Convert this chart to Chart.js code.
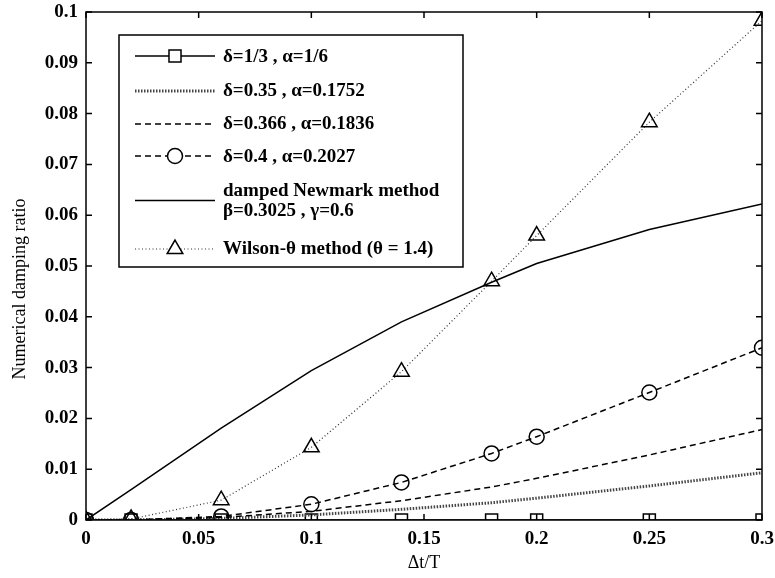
<!DOCTYPE html>
<html>
<head>
<meta charset="utf-8">
<script src="https://cdn.jsdelivr.net/npm/chart.js"></script>
<style>
  html, body { margin: 0; padding: 0; background: #fff; }
  #wrap { width: 775px; height: 578px; }
</style>
</head>
<body>
<div id="wrap"><canvas id="dampChart" width="775" height="578"></canvas></div>
<script>
// step ratio dt/T
const dtRatio = [0, 0.02, 0.06, 0.1, 0.14, 0.18, 0.2, 0.25, 0.3];

// numerical damping ratio
const delta333 = [0, 0, 0, 0, 0, 0, 0, 0, 0];
const delta350 = [0, 0, 0.0003, 0.0010, 0.0021, 0.0034, 0.0043, 0.0067, 0.0093];
const delta366 = [0, 0, 0.0005, 0.0017, 0.0038, 0.0065, 0.0082, 0.0128, 0.0178];
const delta400 = [0, 0, 0.0007, 0.0031, 0.0074, 0.0131, 0.0164, 0.0251, 0.0339];
const newmark = [0, 0.0060, 0.0181, 0.0294, 0.0390, 0.0468, 0.0505, 0.0572, 0.0622];
const wilson = [0, 0.0002, 0.0039, 0.0143, 0.0292, 0.0470, 0.0560, 0.0783, 0.0983];

const legendLabels = [
  ['δ=1/3 , α=1/6'],
  ['δ=0.35 , α=0.1752'],
  ['δ=0.366 , α=0.1836'],
  ['δ=0.4 , α=0.2027'],
  ['damped Newmark method', 'β=0.3025 , γ=0.6'],
  ['Wilson-θ method (θ = 1.4)']
];

const xTickLabels = ['0', '0.05', '0.1', '0.15', '0.2', '0.25', '0.3'];
const yTickLabels = ['0', '0.01', '0.02', '0.03', '0.04', '0.05', '0.06', '0.07', '0.08', '0.09', '0.1'];

const SERIF = '"Liberation Serif", "Times New Roman", serif';

function pts(ys) {
  return dtRatio.map((x, i) => ({ x: x, y: ys[i] }));
}

function series(label, ys, style) {
  return Object.assign({
    label: label,
    data: pts(ys),
    borderColor: '#000',
    borderWidth: 1.5,
    backgroundColor: 'rgba(0,0,0,0)',
    pointBorderColor: '#000',
    pointBackgroundColor: 'rgba(0,0,0,0)',
    pointBorderWidth: 1.5,
    pointRadius: 0,
    pointHoverRadius: 0,
    tension: 0,
    fill: false
  }, style);
}

const datasets = [
  series(legendLabels[0], delta333, { pointStyle: 'rect', pointRadius: 8.5, order: 6 }),
  series(legendLabels[1], delta350, { borderDash: [1.5, 1.5], borderWidth: 3, borderColor: '#444', order: 5 }),
  series(legendLabels[2], delta366, { borderDash: [6, 4], order: 4 }),
  series(legendLabels[3], delta400, { borderDash: [6, 4], pointStyle: 'circle', pointRadius: 7.5, order: 3 }),
  series(legendLabels[4], newmark, { order: 2 }),
  series(legendLabels[5], wilson, { borderDash: [1, 2.5], borderWidth: 1.2, borderColor: '#333', pointStyle: 'triangle', pointRadius: 9, order: 1 })
];

// box, inward ticks, y title and legend (MATLAB look)
const frame = {
  id: 'frame',
  afterDraw(chart) {
    const ctx = chart.ctx;
    const a = chart.chartArea;
    const xs = chart.scales.x;
    const ys = chart.scales.y;
    const tl = 6;
    ctx.save();
    ctx.strokeStyle = '#000';
    ctx.lineWidth = 1.5;
    ctx.strokeRect(a.left, a.top, a.right - a.left, a.bottom - a.top);
    ctx.beginPath();
    xs.ticks.forEach(t => {
      const px = xs.getPixelForValue(t.value);
      ctx.moveTo(px, a.bottom); ctx.lineTo(px, a.bottom - tl);
      ctx.moveTo(px, a.top); ctx.lineTo(px, a.top + tl);
    });
    ys.ticks.forEach(t => {
      const py = ys.getPixelForValue(t.value);
      ctx.moveTo(a.left, py); ctx.lineTo(a.left + tl, py);
      ctx.moveTo(a.right, py); ctx.lineTo(a.right - tl, py);
    });
    ctx.stroke();

    // y axis title
    ctx.save();
    ctx.translate(20, 289);
    ctx.rotate(-Math.PI / 2);
    ctx.font = '18px ' + SERIF;
    ctx.fillStyle = '#000';
    ctx.textAlign = 'center';
    ctx.textBaseline = 'middle';
    ctx.fillText('Numerical damping ratio', 0, 0);
    ctx.restore();

    // legend box
    const bx = 119, by = 35, bw = 344, bh = 232;
    ctx.fillStyle = '#fff';
    ctx.fillRect(bx, by, bw, bh);
    ctx.lineWidth = 1.5;
    ctx.strokeStyle = '#000';
    ctx.strokeRect(bx, by, bw, bh);

    const rows = [
      { line: 56, text: [57] },
      { line: 91, text: [91] },
      { line: 124, text: [124] },
      { line: 156, text: [157] },
      { line: 200.5, text: [191.5, 211.5] },
      { line: 249, text: [249] }
    ];
    ctx.font = 'bold 19px ' + SERIF;
    ctx.textAlign = 'left';
    ctx.textBaseline = 'middle';
    chart.data.datasets.forEach((ds, i) => {
      const r = rows[i];
      ctx.save();
      ctx.strokeStyle = ds.borderColor;
      ctx.lineWidth = ds.borderWidth;
      ctx.setLineDash(ds.borderDash || []);
      ctx.beginPath();
      ctx.moveTo(135, r.line);
      ctx.lineTo(215, r.line);
      ctx.stroke();
      ctx.restore();
      if (ds.pointRadius > 0) {
        ctx.save();
        ctx.fillStyle = '#fff';
        ctx.strokeStyle = '#000';
        ctx.lineWidth = ds.pointBorderWidth;
        Chart.helpers.drawPoint(ctx, {
          pointStyle: ds.pointStyle, radius: ds.pointRadius, rotation: 0, borderWidth: ds.pointBorderWidth
        }, 175, r.line);
        ctx.restore();
      }
      ctx.fillStyle = '#000';
      legendLabels[i].forEach((txt, k) => ctx.fillText(txt, 223, r.text[k]));
    });
    ctx.restore();
  }
};

new Chart(document.getElementById('dampChart').getContext('2d'), {
  type: 'line',
  data: { datasets: datasets },
  plugins: [frame],
  options: {
    responsive: false,
    animation: false,
    layout: { padding: { top: 12, right: 13, left: 0, bottom: 0 } },
    plugins: {
      legend: { display: false },
      tooltip: { enabled: false }
    },
    scales: {
      x: {
        type: 'linear',
        min: 0,
        max: 0.3,
        afterFit(scale) {
          scale.height = 58;
          scale.paddingLeft = 0;
          scale.paddingRight = 0;
        },
        border: { display: false },
        grid: { drawOnChartArea: false, drawTicks: false },
        ticks: {
          stepSize: 0.05,
          padding: 8,
          color: '#000',
          maxRotation: 0,
          font: { family: SERIF, size: 19, weight: 'bold' },
          callback: (v, i) => xTickLabels[i]
        },
        title: {
          display: true,
          text: 'Δt/T',
          color: '#000',
          padding: { top: 4, bottom: 4 },
          font: { family: SERIF, size: 18 }
        }
      },
      y: {
        min: 0,
        max: 0.1,
        afterFit(scale) {
          scale.width = 86;
          scale.paddingTop = 0;
          scale.paddingBottom = 0;
        },
        border: { display: false },
        grid: { drawOnChartArea: false, drawTicks: false },
        ticks: {
          stepSize: 0.01,
          padding: 8,
          color: '#000',
          font: { family: SERIF, size: 19, weight: 'bold' },
          callback: (v, i) => yTickLabels[i]
        }
      }
    }
  }
});
</script>
</body>
</html>
